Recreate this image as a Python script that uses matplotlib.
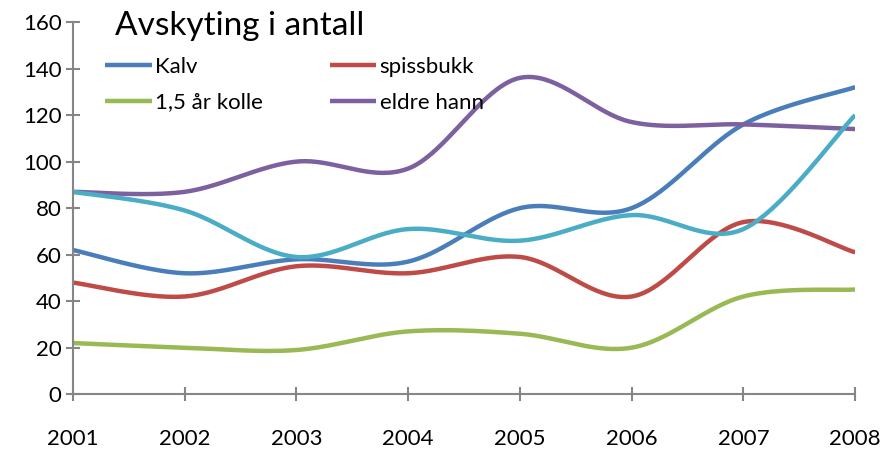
import numpy as np
import matplotlib.pyplot as plt

plt.rcParams['font.family'] = ['Lato', 'DejaVu Sans']

years = [2001, 2002, 2003, 2004, 2005, 2006, 2007, 2008]
kalv = [62, 52, 58, 57, 80, 80, 116, 132]
spissbukk = [48, 42, 55, 52, 59, 42, 74, 61]
kolle = [22, 20, 19, 27, 26, 20, 42, 45]
eldre_hann = [87, 87, 100, 97, 136, 117, 116, 114]
totalt = [87, 79, 59, 71, 66, 77, 71, 120]


def smooth(xs, ys, n=40):
    # Excel-style smoothed line (Catmull-Rom as cubic Bezier)
    x = np.asarray(xs, float)
    y = np.asarray(ys, float)
    px = np.concatenate([[x[0]], x, [x[-1]]])
    py = np.concatenate([[y[0]], y, [y[-1]]])
    outx, outy = [], []
    t = np.linspace(0, 1, n)
    for i in range(1, len(px) - 2):
        p0 = np.array([px[i], py[i]])
        p3 = np.array([px[i + 1], py[i + 1]])
        c1 = p0 + (np.array([px[i + 1], py[i + 1]]) - np.array([px[i - 1], py[i - 1]])) / 6
        c2 = p3 - (np.array([px[i + 2], py[i + 2]]) - p0) / 6
        b = ((1 - t) ** 3)[:, None] * p0 + (3 * (1 - t) ** 2 * t)[:, None] * c1 \
            + (3 * (1 - t) * t ** 2)[:, None] * c2 + (t ** 3)[:, None] * p3
        outx.extend(b[:, 0])
        outy.extend(b[:, 1])
    return outx, outy


fig = plt.figure(figsize=(8.88, 4.5), dpi=100)
ax = fig.add_axes([0.082, 0.124, 0.881, 0.827])

series = [
    (kalv, '#4A7EBB', 'Kalv'),
    (spissbukk, '#BE4B48', 'spissbukk'),
    (kolle, '#98B954', '1,5 år kolle'),
    (eldre_hann, '#7D60A0', 'eldre hann'),
    (totalt, '#4BACC6', None),
]
lines = {}
for vals, col, lab in series:
    sx, sy = smooth(years, vals)
    ln, = ax.plot(sx, sy, color=col, lw=3.2, label=lab, solid_capstyle='butt')
    lines[lab] = ln

ax.set_xlim(2001, 2008)
ax.set_ylim(0, 160)
ax.set_xticks(years)
ax.set_yticks(range(0, 161, 20))
for s in ['top', 'right']:
    ax.spines[s].set_visible(False)
for s in ['left', 'bottom']:
    ax.spines[s].set_color('#868686')
    ax.spines[s].set_linewidth(1.5)
ax.tick_params(axis='both', direction='inout', color='#868686', width=1.5,
               length=10, labelsize=16)
ax.tick_params(axis='x', pad=20)
ax.tick_params(axis='y', pad=3)
for lbl in ax.get_xticklabels() + ax.get_yticklabels():
    lbl.set_clip_on(False)

ax.text(0.054, 1.03, 'Avskyting i antall', transform=ax.transAxes,
        fontsize=24, va='top', ha='left')
# row-wise order: Kalv, spissbukk / 1,5 år kolle, eldre hann
order = ['Kalv', '1,5 år kolle', 'spissbukk', 'eldre hann']
ax.legend([lines[k] for k in order], order, loc='upper left',
          bbox_to_anchor=(0.03, 0.93), ncol=2, frameon=False, fontsize=16,
          handlelength=2.1, handletextpad=0.15, columnspacing=3.0,
          labelspacing=0.7, borderaxespad=0)

fig.savefig('out.png', dpi=100)
